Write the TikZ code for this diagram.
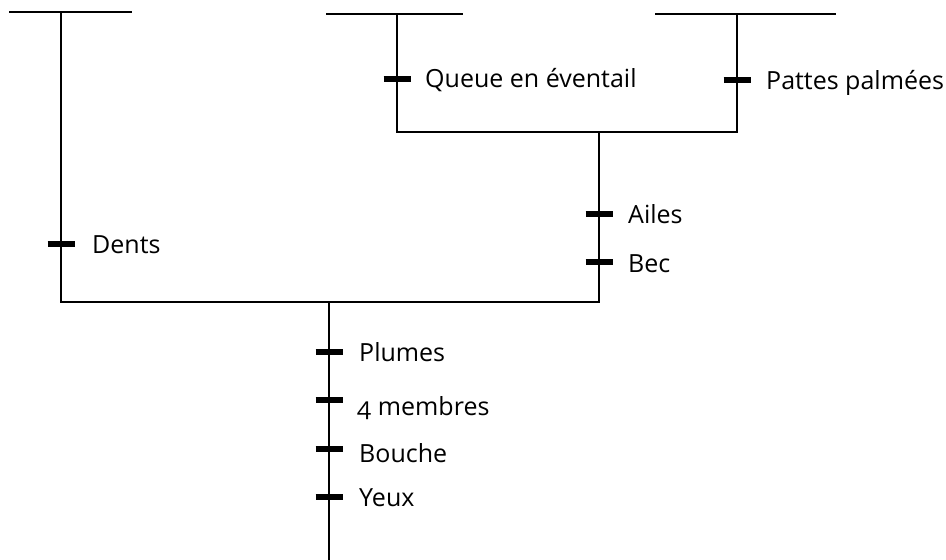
\documentclass[tikz,border=0pt]{standalone}
\usepackage{fontspec}
\setmainfont{Open Sans}[Numbers=OldStyle]
\begin{document}
\begin{tikzpicture}[x=1pt,y=-1pt,
  branch/.style={line width=1.5pt},
  tickmark/.style={line width=6.5pt},
  lbl/.style={anchor=base west,inner sep=0pt,font=\fontsize{25}{29}\selectfont}]
\useasboundingbox (0,0) rectangle (946,560);
% coordinates
\coordinate (t1l) at (9,12);   \coordinate (t1r) at (132,12);  \coordinate (a1) at (61,12);
\coordinate (t2l) at (326,14); \coordinate (t2r) at (463,14);  \coordinate (a2) at (397,14);
\coordinate (t3l) at (655,14); \coordinate (t3r) at (836,14);  \coordinate (a3) at (737,14);
\coordinate (j1l) at (397,132); \coordinate (j1r) at (737,132); \coordinate (j1) at (599,132);
\coordinate (j0l) at (61,302);  \coordinate (j0r) at (599,302); \coordinate (root) at (329,302);
\coordinate (rootend) at (329,560);
% tree
\draw[branch] (t1l) -- (t1r);
\draw[branch] (t2l) -- (t2r);
\draw[branch] (t3l) -- (t3r);
\draw[branch] (a1) -- (j0l) -- (j0r) -- (j1);
\draw[branch] (a2) -- (j1l) -- (j1r) -- (a3);
\draw[branch] (root) -- (rootend);
% ticks
\foreach \n/\x/\y in {kdents/61/244, kqueue/397/79, kpattes/737/80, kailes/599/214, kbec/599/262,
  kplumes/329/352, kmembres/329/400, kbouche/329/449, kyeux/329/497}{
  \coordinate (\n) at (\x,\y);
  \draw[tickmark] ([xshift=-13.5pt]\n) -- ([xshift=13.5pt]\n);
}
% labels
\node[lbl] (dents) at (92,253) {Dents};
\node[lbl] (queue) at (425,87) {Queue en éventail};
\node[lbl] (pattes) at (766,89) {Pattes palmées};
\node[lbl] (ailes) at (628,223) {Ailes};
\node[lbl] (bec) at (628,272) {Bec};
\node[lbl] (plumes) at (359,361) {Plumes};
\node[lbl] (membres) at (357,415) {4 membres};
\node[lbl] (bouche) at (359,462) {Bouche};
\node[lbl] (yeux) at (359,506) {Yeux};
\end{tikzpicture}
\end{document}
